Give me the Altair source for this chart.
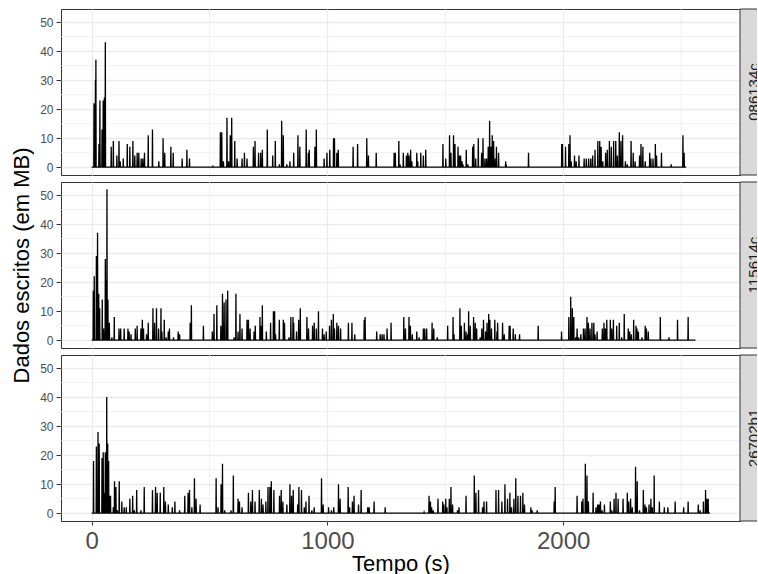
import altair as alt
import pandas as pd

# Panel labels and the last second of each trace
paineis = ["086134c", "115614c", "26702b1"]
fim = [2522, 2561, 2623]

# (second, MB written) for every burst; all other seconds are zero
picos_086134c = [
    (10, 22), (16, 30), (18, 37), (31, 8), (35, 23), (44, 13), (49, 23), (54, 24), (58, 43),
    (83, 7), (92, 9), (107, 4), (116, 9), (121, 2), (134, 3), (151, 8), (162, 7), (175, 9),
    (183, 4), (193, 5), (200, 5), (210, 3), (217, 3), (224, 5), (240, 11), (258, 13), (285, 2),
    (303, 10), (310, 5), (336, 7), (346, 5), (384, 3), (404, 6), (415, 3), (514, 0.5),
    (546, 12), (552, 12), (559, 2), (574, 17), (581, 2), (588, 11), (594, 17), (607, 9),
    (617, 3), (638, 3), (648, 5), (659, 3), (686, 7), (693, 9), (708, 5), (717, 5), (724, 6),
    (745, 13), (768, 4), (779, 9), (796, 1), (806, 16), (813, 11), (828, 1), (841, 2),
    (857, 5), (875, 11), (883, 7), (910, 13), (919, 5), (923, 6), (947, 7), (953, 13),
    (986, 3), (998, 5), (1010, 6), (1026, 10), (1030, 10), (1040, 5), (1046, 6), (1109, 7),
    (1128, 8), (1167, 10), (1174, 4), (1207, 5), (1283, 5), (1288, 5), (1303, 9), (1308, 1),
    (1322, 5), (1335, 4), (1341, 5), (1346, 4), (1353, 6), (1358, 2), (1379, 5), (1383, 2),
    (1396, 5), (1407, 4), (1417, 6), (1490, 8), (1502, 3), (1518, 11), (1524, 5), (1535, 11),
    (1541, 8), (1554, 7), (1559, 4), (1565, 4), (1571, 2), (1575, 1), (1589, 6), (1596, 1),
    (1616, 7), (1621, 8), (1629, 3), (1640, 10), (1654, 5), (1660, 10), (1668, 3), (1675, 3),
    (1682, 7), (1688, 16), (1693, 7), (1699, 11), (1705, 9), (1710, 3), (1717, 7), (1726, 5),
    (1756, 2), (1758, 1), (1853, 5), (1994, 8), (1997, 8), (2010, 7), (2024, 8), (2029, 11),
    (2034, 2), (2048, 4), (2055, 2), (2067, 4), (2089, 3), (2098, 3), (2108, 3), (2117, 3),
    (2125, 4), (2135, 6), (2147, 9), (2155, 9), (2161, 7), (2168, 2), (2180, 5), (2187, 6),
    (2196, 9), (2204, 7), (2214, 9), (2223, 9), (2230, 4), (2238, 12), (2245, 9), (2252, 11),
    (2264, 2), (2272, 1), (2288, 9), (2297, 5), (2305, 2), (2324, 4), (2330, 8), (2338, 7),
    (2348, 2), (2367, 5), (2372, 3), (2381, 3), (2391, 8), (2396, 4), (2417, 5), (2458, 1),
    (2508, 11), (2513, 5),
]

picos_115614c = [
    (7, 17), (11, 22), (20, 29), (25, 37), (30, 16), (34, 11), (45, 14), (51, 4), (58, 28),
    (61, 21), (65, 52), (69, 14), (75, 6), (86, 1), (96, 8), (116, 4), (123, 4), (138, 4),
    (154, 4), (159, 3), (167, 2), (185, 4), (193, 5), (209, 4), (215, 7), (220, 4), (233, 2),
    (240, 6), (260, 11), (267, 6), (275, 11), (284, 4), (294, 11), (298, 3), (308, 7),
    (316, 1), (325, 3), (330, 4), (347, 1), (367, 3), (373, 2), (418, 6), (423, 12), (474, 5),
    (512, 3), (519, 9), (531, 12), (548, 5), (555, 16), (562, 13), (570, 14), (577, 17),
    (604, 1), (612, 16), (621, 3), (629, 9), (638, 4), (659, 7), (665, 7), (672, 4), (689, 3),
    (694, 5), (714, 8), (720, 5), (724, 12), (741, 3), (759, 6), (771, 10), (776, 10),
    (780, 2), (796, 7), (813, 7), (818, 6), (837, 1), (845, 8), (854, 8), (857, 6), (869, 3),
    (878, 7), (885, 11), (913, 8), (920, 4), (937, 5), (944, 6), (953, 4), (962, 10),
    (979, 4), (986, 2), (995, 3), (1009, 5), (1017, 7), (1025, 9), (1030, 4), (1040, 6),
    (1047, 5), (1056, 4), (1089, 6), (1104, 6), (1116, 2), (1156, 7), (1160, 8), (1209, 3),
    (1224, 2), (1232, 2), (1240, 2), (1253, 4), (1270, 6), (1324, 8), (1331, 4), (1346, 8),
    (1352, 5), (1360, 2), (1379, 3), (1389, 1), (1407, 4), (1413, 4), (1421, 4), (1444, 6),
    (1451, 4), (1466, 1), (1510, 5), (1533, 8), (1537, 2), (1562, 11), (1568, 5), (1581, 6),
    (1588, 3), (1595, 2), (1599, 10), (1606, 5), (1620, 8), (1627, 6), (1633, 4), (1648, 1),
    (1655, 4), (1662, 7), (1671, 3), (1677, 6), (1684, 9), (1689, 7), (1696, 4), (1710, 7),
    (1719, 3), (1722, 6), (1743, 6), (1750, 2), (1771, 5), (1775, 5), (1788, 4), (1797, 2),
    (1815, 2), (1894, 5), (1993, 3), (2024, 8), (2032, 15), (2039, 11), (2045, 8), (2053, 1),
    (2059, 4), (2066, 1), (2075, 2), (2086, 4), (2093, 4), (2101, 8), (2107, 6), (2114, 4),
    (2122, 6), (2130, 6), (2135, 2), (2144, 3), (2166, 4), (2173, 6), (2179, 4), (2185, 7),
    (2200, 7), (2206, 4), (2213, 7), (2227, 5), (2238, 6), (2248, 1), (2259, 9), (2276, 4),
    (2282, 3), (2289, 2), (2299, 7), (2309, 5), (2313, 4), (2319, 3), (2334, 1), (2348, 5),
    (2353, 4), (2361, 3), (2412, 8), (2449, 1), (2485, 7), (2530, 8),
]

picos_26702b1 = [
    (8, 18), (20, 23), (27, 28), (32, 24), (44, 19), (49, 21), (54, 7), (58, 21), (64, 40),
    (68, 24), (72, 18), (76, 6), (80, 6), (92, 2), (97, 11), (103, 9), (109, 1), (117, 11),
    (128, 4), (138, 2), (147, 2), (162, 5), (174, 6), (181, 1), (191, 8), (209, 1), (223, 9),
    (258, 8), (271, 9), (278, 7), (291, 7), (306, 9), (313, 4), (325, 3), (342, 2), (353, 4),
    (373, 1), (395, 6), (409, 7), (415, 8), (425, 2), (436, 12), (443, 5), (460, 3),
    (528, 12), (536, 2), (549, 10), (555, 17), (564, 1), (591, 1), (601, 13), (621, 5),
    (627, 4), (638, 2), (665, 7), (675, 4), (682, 8), (693, 4), (711, 8), (720, 5), (727, 3),
    (739, 4), (748, 9), (756, 9), (762, 11), (773, 8), (797, 6), (804, 8), (811, 4), (828, 3),
    (841, 10), (848, 6), (855, 8), (874, 3), (879, 9), (890, 8), (902, 2), (909, 4), (922, 6),
    (934, 1), (944, 2), (975, 12), (982, 3), (1005, 2), (1017, 1), (1027, 2), (1047, 10),
    (1054, 5), (1088, 9), (1094, 2), (1106, 4), (1113, 6), (1132, 3), (1143, 8), (1171, 2),
    (1177, 2), (1198, 4), (1245, 2), (1410, 0.3), (1431, 6), (1437, 4), (1442, 2), (1449, 1),
    (1469, 5), (1489, 4), (1494, 3), (1502, 5), (1507, 2), (1517, 5), (1524, 9), (1531, 3),
    (1552, 1), (1558, 2), (1588, 6), (1623, 13), (1630, 7), (1641, 8), (1658, 2), (1664, 4),
    (1675, 4), (1715, 8), (1726, 8), (1740, 4), (1753, 10), (1764, 5), (1774, 7), (1781, 2),
    (1791, 5), (1799, 12), (1808, 6), (1819, 6), (1829, 7), (1836, 3), (1863, 2), (1868, 1),
    (1890, 1), (1962, 4), (1966, 9), (2059, 6), (2079, 4), (2084, 5), (2094, 17), (2101, 13),
    (2107, 4), (2127, 7), (2139, 2), (2146, 3), (2152, 3), (2158, 4), (2165, 1), (2175, 3),
    (2200, 4), (2206, 1), (2216, 5), (2224, 7), (2233, 5), (2254, 5), (2272, 7), (2278, 4),
    (2286, 5), (2293, 2), (2307, 16), (2314, 11), (2324, 1), (2340, 8), (2347, 3), (2353, 2),
    (2364, 3), (2372, 5), (2378, 2), (2386, 13), (2408, 4), (2429, 2), (2444, 2), (2475, 4),
    (2511, 2), (2530, 4), (2573, 3), (2581, 1), (2595, 4), (2604, 8), (2609, 5), (2615, 5),
]

picos = [picos_086134c, picos_115614c, picos_26702b1]

# Axis breaks and minor grid positions
x_ticks = [0, 1000, 2000]
x_minor = [500, 1500, 2500]
y_ticks = [0, 10, 20, 30, 40, 50]
y_minor = [5, 15, 25, 35, 45]

FONT = "Liberation Sans"
W, H = 679, 166
STRIP = 27
GRID = "#EBEBEB"
DARK = "#333333"

x_scale = alt.Scale(domain=[-130, 2750], nice=False, zero=False)
y_scale = alt.Scale(domain=[-2.7, 54.5], nice=False, zero=False)


def serie(pares, t_fim):
    """One row per second, zero outside the bursts."""
    valores = {}
    for t, mb in pares:
        valores[t] = max(mb, valores.get(t, 0))
    ts = list(range(0, t_fim + 1))
    return pd.DataFrame({"tempo": ts, "mb": [valores.get(t, 0) for t in ts]})


def painel(i):
    ultimo = i == len(paineis) - 1
    meio = i == 1

    x_kw = dict(values=x_ticks, grid=True, gridColor=GRID, gridWidth=1.3, domain=False,
                labels=ultimo, ticks=ultimo, format="d")
    if ultimo:
        x_kw.update(title="Tempo (s)", labelFontSize=24, labelColor="#4D4D4D",
                    labelFont=FONT, tickSize=4, tickColor=DARK, labelPadding=4,
                    titleFontSize=22, titleFont=FONT, titleFontWeight="normal",
                    titleColor="#000000", titlePadding=0)
    else:
        x_kw.update(title="")
    y_kw = dict(values=y_ticks, grid=True, gridColor=GRID, gridWidth=1.3, domain=False,
                labelFontSize=12, labelColor="#4D4D4D", labelFont=FONT, tickSize=5,
                tickColor=DARK, labelPadding=3)
    if meio:
        y_kw.update(title="Dados escritos (em MB)", titleFontSize=22, titleFont=FONT,
                    titleFontWeight="normal", titleColor="#000000", titlePadding=6)
    else:
        y_kw.update(title="")

    x_enc = alt.X("tempo:Q", scale=x_scale, axis=alt.Axis(**x_kw))
    y_enc = alt.Y("mb:Q", scale=y_scale, axis=alt.Axis(**y_kw))

    grade_y = alt.Chart(pd.DataFrame({"mb": y_minor})).mark_rule(
        color=GRID, strokeWidth=0.7).encode(y=y_enc)
    grade_x = alt.Chart(pd.DataFrame({"tempo": x_minor})).mark_rule(
        color=GRID, strokeWidth=0.7).encode(x=x_enc)

    linha = alt.Chart(serie(picos[i], fim[i])).mark_line(
        color="#000000", strokeWidth=1.3, interpolate="linear").encode(x=x_enc, y=y_enc)

    rotulo = pd.DataFrame({"painel": [paineis[i]]})
    faixa = alt.Chart(rotulo).mark_rect(
        fill="#D9D9D9", stroke=DARK, strokeWidth=1).encode(
        x=alt.value(W), x2=alt.value(W + STRIP), y=alt.value(0), y2=alt.value(H))
    texto = alt.Chart(rotulo).mark_text(
        angle=270, font=FONT, fontSize=15, color="#1A1A1A",
        align="center", baseline="middle").encode(
        x=alt.value(W + STRIP / 2), y=alt.value(H / 2), text="painel:N")

    return alt.layer(grade_y, grade_x, linha, faixa, texto).properties(width=W, height=H)


# The strip column runs past the right edge of the page, as in the printed figure
chart = alt.vconcat(*[painel(i) for i in range(len(paineis))],
                    spacing=7, bounds="flush").properties(
    padding={"left": 10, "top": 8, "right": -11, "bottom": 0},
    background="#FFFFFF",
).configure_view(stroke=DARK, strokeWidth=1)

chart.save("out.html", embed_options={"renderer": "svg", "actions": False})
